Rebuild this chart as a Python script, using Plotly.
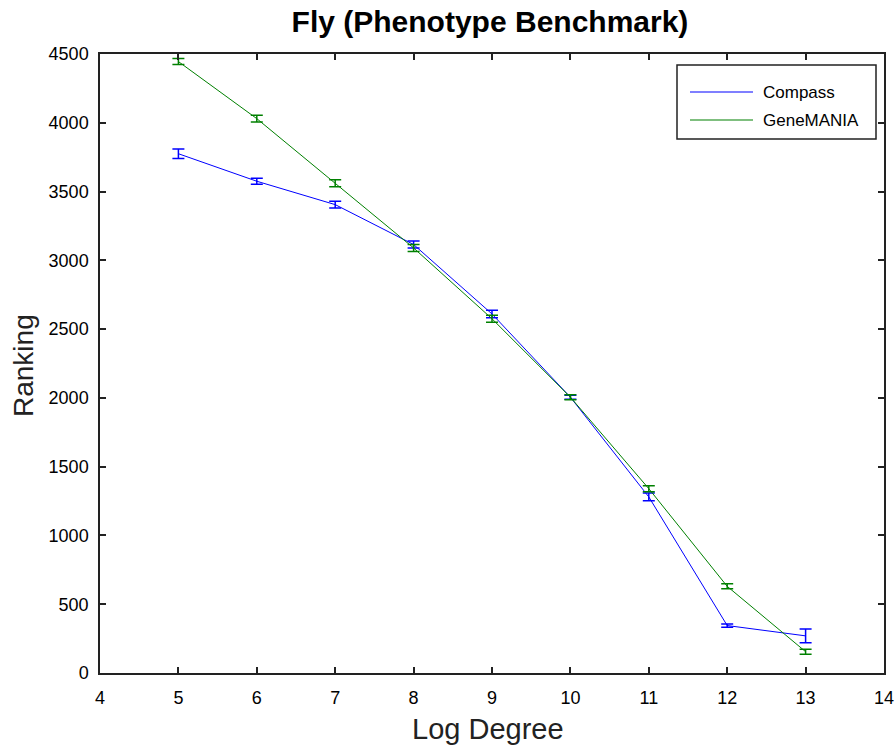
import plotly.graph_objects as go

x_vals = [5, 6, 7, 8, 9, 10, 11, 12, 13]
compass = [3775, 3575, 3405, 3115, 2610, 2005, 1280, 345, 270]
compass_err = [35, 22, 25, 25, 28, 15, 28, 12, 50]
genemania = [4445, 4030, 3560, 3090, 2575, 2005, 1340, 630, 155]
genemania_err = [22, 25, 25, 25, 25, 18, 22, 18, 18]

x_ticks = [4, 5, 6, 7, 8, 9, 10, 11, 12, 13, 14]
y_ticks = [0, 500, 1000, 1500, 2000, 2500, 3000, 3500, 4000, 4500]

series_names = ["Compass", "GeneMANIA"]
series_colors = ["#0000FF", "#008000"]

FONT = "Liberation Sans, Arial, Helvetica"

fig = go.Figure()
for name, vals, err, col in zip(series_names, [compass, genemania],
                                [compass_err, genemania_err], series_colors):
    fig.add_trace(go.Scatter(
        x=x_vals, y=vals, mode="lines", name=name, showlegend=False,
        line=dict(color=col, width=1),
        error_y=dict(type="data", array=err, color=col, thickness=1.5, width=6),
    ))

axis_common = dict(
    showgrid=False, zeroline=False, showline=True, linecolor="#222", linewidth=1.5,
    mirror="ticks", ticks="inside", ticklen=6, tickcolor="#222", tickwidth=1.5,
    tickfont=dict(family=FONT, size=18, color="black"), automargin=False,
)

L, R, T, B = 100, 12, 54, 74
W, H = 896, 747
pw, ph = W - L - R, H - T - B

def px_to_paper_x(px):
    return (px - L) / pw

def px_to_paper_y(py):
    return (H - B - py) / ph

fig.update_layout(
    width=W, height=H,
    margin=dict(l=L, r=R, t=T, b=B, autoexpand=False),
    paper_bgcolor="white", plot_bgcolor="white",
    title=dict(text="<b>Fly (Phenotype Benchmark)</b>", x=490 / W, xanchor="center",
               y=1 - 21 / H, yanchor="middle", automargin=False,
               font=dict(family=FONT, size=30, color="black")),
    xaxis=dict(range=[4, 14], tickvals=x_ticks, ticklabelstandoff=8, **axis_common),
    yaxis=dict(range=[0, 4500], tickvals=y_ticks, ticklabelstandoff=6, **axis_common),
    showlegend=False,
)

# axis titles
fig.add_annotation(text="Log Degree", xref="paper", yref="paper",
                   x=px_to_paper_x(488), y=px_to_paper_y(729),
                   xanchor="center", yanchor="middle", showarrow=False,
                   font=dict(family=FONT, size=29, color="#222"))
fig.add_annotation(text="Ranking", xref="paper", yref="paper",
                   x=px_to_paper_x(24), y=px_to_paper_y(366),
                   xanchor="center", yanchor="middle", showarrow=False, textangle=-90,
                   font=dict(family=FONT, size=28, color="#222"))

# legend box
fig.add_shape(type="rect", xref="paper", yref="paper",
              x0=px_to_paper_x(677), x1=px_to_paper_x(876),
              y0=px_to_paper_y(139), y1=px_to_paper_y(65),
              line=dict(color="#222", width=1.5), fillcolor="white", layer="above")
for i, (name, col) in enumerate(zip(series_names, series_colors)):
    yy = px_to_paper_y(92 + 28 * i)
    fig.add_shape(type="line", xref="paper", yref="paper",
                  x0=px_to_paper_x(690), x1=px_to_paper_x(753), y0=yy, y1=yy,
                  line=dict(color=col, width=1.2), layer="above")
    fig.add_annotation(text=name, xref="paper", yref="paper",
                       x=px_to_paper_x(761), y=yy, xanchor="left", yanchor="middle",
                       showarrow=False,
                       font=dict(family=FONT, size=17, color="black"))

fig.write_html("out.html")
